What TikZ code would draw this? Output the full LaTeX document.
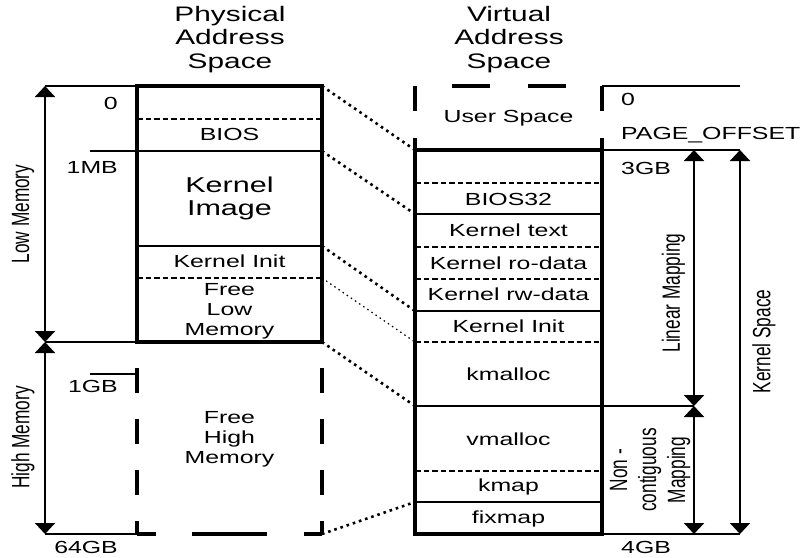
\documentclass[tikz,border=0pt]{standalone}
\usepackage{fontspec}
\setmainfont{Liberation Sans}
\newfontfamily\boxfont[FakeStretch=1.42]{Liberation Sans}
\newfontfamily\sidefont[FakeStretch=0.69]{Liberation Sans}
\usetikzlibrary{arrows.meta}

\begin{document}
\begin{tikzpicture}[
        x=1pt, y=-1pt,
        titleText/.style={
            align=center,
            inner sep=0pt,
            font=\boxfont\fontsize{21}{23.5}\selectfont
        },
        memText/.style={
            align=center,
            inner sep=0pt,
            font=\boxfont\fontsize{17.5}{20}\selectfont
        },
        bigText/.style={
            align=center,
            inner sep=0pt,
            font=\boxfont\fontsize{21.5}{23}\selectfont
        },
        sideText/.style={
            align=center,
            rotate=90,
            inner sep=0pt,
            font=\sidefont\fontsize{25}{29}\selectfont
        },
        box/.style={
            line width=3.2pt
        },
        solidSep/.style={
            line width=2.8pt
        },
        dashSep/.style={
            line width=1.8pt,
            dash pattern=on 5.5pt off 3pt
        },
        tick/.style={
            line width=1.2pt
        },
        span/.style={
            line width=2pt,
            {Triangle[width=20pt,length=11pt]}-{Triangle[width=20pt,length=11pt]}
        },
        mapLine/.style={
            line width=2.6pt,
            dash pattern=on 2.6pt off 3.9pt
        },
        thinMap/.style={
            line width=1.2pt,
            dash pattern=on 1.5pt off 3.5pt
        }
    ]
        \useasboundingbox (0,0) rectangle (806,557);

        \node[titleText] (phyTitle) at (230,39.5) {Physical\\Address\\Space};
        \node[titleText] (virTitle) at (509,39.5) {Virtual\\Address\\Space};

        % physical memory
        \draw[box] (137,86) rectangle (322,342);
        \draw[dashSep] (137,119) -- (322,119);
        \draw[solidSep] (137,151) -- (322,151);
        \draw[solidSep] (137,246) -- (322,246);
        \draw[dashSep] (137,278) -- (322,278);

        \draw[box, dash pattern=on 25pt off 26pt] (137,368) -- (137,534);
        \draw[box, dash pattern=on 25pt off 26pt] (322,368) -- (322,534);
        \draw[box, dash pattern=on 19pt off 36pt on 75pt off 37pt] (137,534) -- (322,534);

        \node[memText] (bios) at (229.5,134) {BIOS};
        \node[bigText] (kImage) at (229.5,198.5) {Kernel\\Image};
        \node[memText] (pInit) at (229.5,261.5) {Kernel Init};
        \node[memText] (freeLow) at (229.5,311) {Free\\Low\\Memory};
        \node[memText] (freeHigh) at (229.5,439) {Free\\High\\Memory};

        % virtual memory
        \draw[box, dash pattern=on 25pt off 27pt] (415,86) -- (415,150);
        \draw[box, dash pattern=on 25pt off 27pt] (602,86) -- (602,150);
        \draw[box, dash pattern=on 38pt off 38pt, dash phase=39pt] (415,86) -- (602,86);

        \draw[box] (415,150) rectangle (602,534);
        \draw[dashSep] (415,183) -- (602,183);
        \draw[solidSep] (415,214) -- (602,214);
        \draw[dashSep] (415,247) -- (602,247);
        \draw[dashSep] (415,279) -- (602,279);
        \draw[solidSep] (415,311) -- (602,311);
        \draw[dashSep] (415,342) -- (602,342);
        \draw[solidSep] (415,406) -- (602,406);
        \draw[dashSep] (415,471) -- (602,471);
        \draw[solidSep] (415,502) -- (602,502);

        \node[memText] (user) at (508.5,118) {User Space};
        \node[memText] (bios32) at (508.5,199) {BIOS32};
        \node[memText] (kText) at (508.5,230) {Kernel text};
        \node[memText] (kRo) at (508.5,263.5) {Kernel ro-data};
        \node[memText] (kRw) at (508.5,294) {Kernel rw-data};
        \node[memText] (vInit) at (508.5,326.5) {Kernel Init};
        \node[memText] (kmalloc) at (508.5,374.5) {kmalloc};
        \node[memText] (vmalloc) at (508.5,439) {vmalloc};
        \node[memText] (kmap) at (508.5,486.5) {kmap};
        \node[memText] (fixmap) at (508.5,518.5) {fixmap};

        % address marks
        \coordinate (lowTop) at (45,86);
        \coordinate (lowEnd) at (45,342);
        \coordinate (highEnd) at (45,534);
        \coordinate (linTop) at (694,150);
        \coordinate (linEnd) at (694,406);
        \coordinate (ncEnd) at (694,534);
        \coordinate (ksTop) at (740,150);
        \coordinate (ksEnd) at (740,534);

        \draw[tick] (lowTop) -- (137,86);
        \draw[tick] (90,151) -- (137,151);
        \draw[tick] (lowEnd) -- (137,342);
        \draw[tick] (90,374) -- (137,374);
        \draw[tick] (highEnd) -- (137,534);
        \draw[tick] (602,86) -- (740,86);
        \draw[tick] (602,150) -- (ksTop);
        \draw[tick] (602,406) -- (linEnd);
        \draw[tick] (602,534) -- (ksEnd);

        \node[memText, anchor=east] (pa0) at (118,103) {0};
        \node[memText, anchor=east] (pa1M) at (118,167.5) {1MB};
        \node[memText, anchor=east] (pa1G) at (118,386.5) {1GB};
        \node[memText, anchor=east] (pa64G) at (118,547) {64GB};
        \node[memText, anchor=west] (va0) at (621,99) {0};
        \node[memText, anchor=west] (pageOff) at (621,135) {PAGE\_OFFSET};
        \node[memText, anchor=west] (va3G) at (621,168) {3GB};
        \node[memText, anchor=west] (va4G) at (621,547.5) {4GB};

        \draw[span] (lowTop) -- (lowEnd);
        \draw[span] (lowEnd) -- (highEnd);
        \draw[span] (linTop) -- (linEnd);
        \draw[span] (linEnd) -- (ncEnd);
        \draw[span] (ksTop) -- (ksEnd);

        \node[sideText] (lowMem) at (23,214) {Low Memory};
        \node[sideText] (highMem) at (23,437.5) {High Memory};
        \node[sideText] (linMap) at (673.5,293) {Linear Mapping};
        \node[sideText] (kSpace) at (764,341.5) {Kernel Space};
        \node[sideText] (ncMap) at (650,470) {Non -\\contiguous\\Mapping};

        % mappings
        \coordinate (p0) at (322,86);
        \coordinate (p1) at (322,151);
        \coordinate (p2) at (322,246);
        \coordinate (p3) at (322,278);
        \coordinate (p4) at (322,342);
        \coordinate (p5) at (322,534);
        \coordinate (v0) at (415,150);
        \coordinate (v1) at (415,214);
        \coordinate (v2) at (415,311);
        \coordinate (v3) at (415,342);
        \coordinate (v4) at (415,406);
        \coordinate (v5) at (415,502);

        \draw[mapLine] (p0) -- (v0);
        \draw[mapLine] (p1) -- (v1);
        \draw[mapLine] (p2) -- (v2);
        \draw[thinMap] (p3) -- (v3);
        \draw[mapLine] (p4) -- (v4);
        \draw[mapLine] (p5) -- (v5);

    \end{tikzpicture}
\end{document}
